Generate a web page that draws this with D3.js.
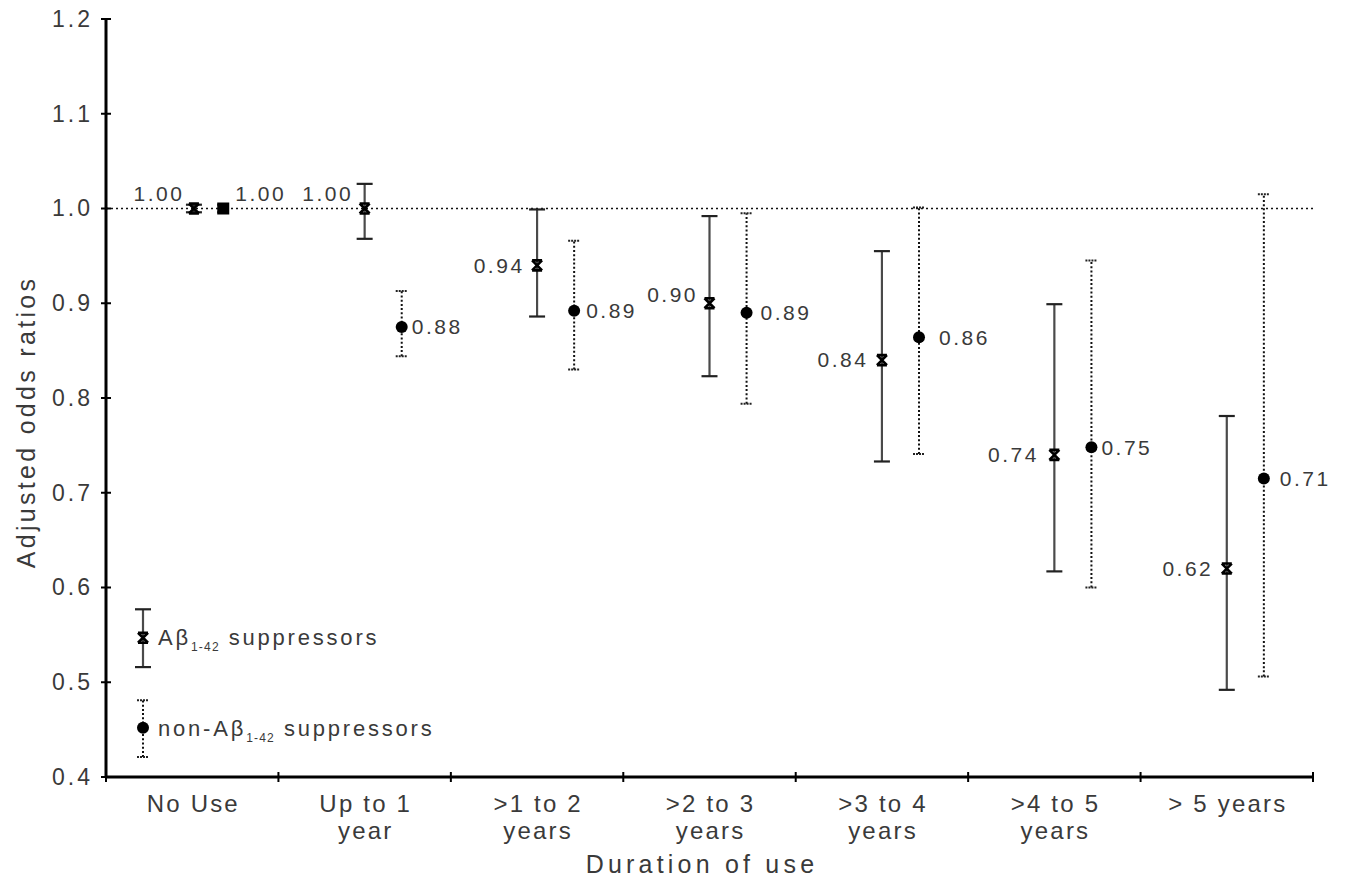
<!DOCTYPE html>
<html>
<head>
<meta charset="utf-8">
<script src="https://cdn.jsdelivr.net/npm/d3@7/dist/d3.min.js"></script>
<style>
  html, body { margin: 0; padding: 0; background: #fff; }
  svg { display: block; font-family: "Liberation Sans", Arial, sans-serif; }
</style>
</head>
<body>
<svg id="chart" width="1353" height="893"></svg>
<script>
// ---------- data ----------
const categories = ["No Use", "Up to 1 year", ">1 to 2 years", ">2 to 3 years", ">3 to 4 years", ">4 to 5 years", "> 5 years"];
const categoryLines = [["No Use"], ["Up to 1", "year"], [">1 to 2", "years"], [">2 to 3", "years"], [">3 to 4", "years"], [">4 to 5", "years"], ["> 5 years"]];

const abOR    = [1.00, 1.00, 0.94, 0.90, 0.84, 0.74, 0.62];
const abLow   = [0.996, 0.968, 0.886, 0.823, 0.733, 0.617, 0.492];
const abHigh  = [1.004, 1.026, 0.999, 0.992, 0.955, 0.899, 0.781];
const abLabels = ["1.00", "1.00", "0.94", "0.90", "0.84", "0.74", "0.62"];

const nonOR   = [1.00, 0.875, 0.892, 0.89, 0.864, 0.748, 0.715];
const nonLow  = [0.996, 0.844, 0.830, 0.794, 0.741, 0.600, 0.506];
const nonHigh = [1.004, 0.913, 0.966, 0.995, 1.001, 0.945, 1.015];
const nonLabels = ["1.00", "0.88", "0.89", "0.89", "0.86", "0.75", "0.71"];

const yTicks = [0.4, 0.5, 0.6, 0.7, 0.8, 0.9, 1.0, 1.1, 1.2];
const referenceOR = 1.0;

// legend sample values (drawn on the y scale)
const legendAb  = { v: 0.547, lo: 0.516, hi: 0.577 };
const legendNon = { v: 0.452, lo: 0.421, hi: 0.481 };

// ---------- layout ----------
const svg = d3.select("#chart");
const X0 = 106, X1 = 1313, Y0 = 777, Y1 = 19;
const textColor = "#3a3a3a";

const x = d3.scaleBand().domain(categories).range([X0, X1]).paddingInner(0).paddingOuter(0);
const y = d3.scaleLinear().domain([0.4, 1.2]).range([Y0, Y1]);
const bw = x.bandwidth();
const abPos  = i => x(categories[i]) + bw / 2 + (i === 0 ? 0.01 * bw : 0);
const nonPos = i => x(categories[i]) + bw / 2 + (i === 0 ? 0.18 * bw : 0.215 * bw);

// label layout (pixel gaps / vertical shifts)
const abGap  = [12, 14, 15, 14, 16, 18, 16];
const abDy   = [-15, -15, 0, -9, 0, 0, 0];
const nonGap = [12, 10, 12, 14, 20, 10, 16];
const nonDy  = [-15, 0, 0, 0, 0, 0, 0];

// reference dotted line
svg.append("line")
  .attr("x1", X0).attr("x2", X1)
  .attr("y1", y(referenceOR)).attr("y2", y(referenceOR))
  .attr("stroke", "#111").attr("stroke-width", 1.6)
  .attr("stroke-dasharray", "2,3");

// y axis
const yAxis = d3.axisLeft(y).tickValues(yTicks).tickFormat(d3.format(".1f")).tickSizeInner(0).tickSizeOuter(0).tickPadding(13);
const gy = svg.append("g").attr("transform", `translate(${X0},0)`).call(yAxis);
gy.select(".domain").remove();
gy.selectAll("text").attr("font-size", 23).attr("letter-spacing", 3).attr("fill", textColor)
  .attr("font-family", "Liberation Sans, Arial, sans-serif");
svg.append("line").attr("x1", X0).attr("x2", X0).attr("y1", Y1 - 1).attr("y2", Y0 + 1)
  .attr("stroke", "#000").attr("stroke-width", 3);
svg.selectAll(".ytick").data(yTicks).join("line").attr("class", "ytick")
  .attr("x1", X0 - 5).attr("x2", X0 + 5)
  .attr("y1", d => y(d)).attr("y2", d => y(d))
  .attr("stroke", "#000").attr("stroke-width", 2);

// x axis
svg.append("line").attr("x1", X0).attr("x2", X1).attr("y1", Y0).attr("y2", Y0)
  .attr("stroke", "#000").attr("stroke-width", 3);
const bounds = categories.map(c => x(c)).concat([X1]);
svg.selectAll(".xtick").data(bounds).join("line").attr("class", "xtick")
  .attr("x1", d => d).attr("x2", d => d)
  .attr("y1", Y0 - 5).attr("y2", Y0 + 5)
  .attr("stroke", "#000").attr("stroke-width", 2);
const xls = 2.2;
const xl = svg.selectAll(".xlab").data(categories).join("text").attr("class", "xlab")
  .attr("y", 812)
  .attr("text-anchor", "middle")
  .attr("font-size", 24)
  .attr("letter-spacing", xls)
  .attr("fill", textColor);
xl.each(function(d, i) {
  const t = d3.select(this);
  categoryLines[i].forEach((line, k) => {
    t.append("tspan").attr("x", x(d) + bw / 2 + xls / 2).attr("dy", k === 0 ? 0 : 27).text(line);
  });
});

// axis titles
svg.append("text").attr("x", 700 + 2).attr("y", 873)
  .attr("text-anchor", "middle").attr("font-size", 25).attr("letter-spacing", 4.2).attr("fill", textColor)
  .text("Duration of use");
svg.append("text").attr("transform", `translate(35,${424 - 2}) rotate(-90)`)
  .attr("text-anchor", "middle").attr("font-size", 25).attr("letter-spacing", 3.3).attr("fill", textColor)
  .text("Adjusted odds ratios");

// ---------- marks ----------
function solidBar(g, cx, lo, hi) {
  g.append("line").attr("x1", cx).attr("x2", cx).attr("y1", y(lo)).attr("y2", y(hi))
    .attr("stroke", "#4a4a4a").attr("stroke-width", 2.2);
  [lo, hi].forEach(v => g.append("line").attr("x1", cx - 8).attr("x2", cx + 8)
    .attr("y1", y(v)).attr("y2", y(v)).attr("stroke", "#222").attr("stroke-width", 2.2));
}
function dottedBar(g, cx, lo, hi) {
  g.append("line").attr("x1", cx).attr("x2", cx).attr("y1", y(lo)).attr("y2", y(hi))
    .attr("stroke", "#111").attr("stroke-width", 2).attr("stroke-dasharray", "2,2.2");
  [lo, hi].forEach(v => g.append("line").attr("x1", cx - 6).attr("x2", cx + 6)
    .attr("y1", y(v)).attr("y2", y(v)).attr("stroke", "#222").attr("stroke-width", 2)
    .attr("stroke-dasharray", "2,1"));
}
function xMarker(g, cx, cy) {
  const s = 5;
  g.append("path")
    .attr("d", `M${cx - s},${cy - s}L${cx + s},${cy + s}M${cx + s},${cy - s}L${cx - s},${cy + s}M${cx - s},${cy - s}L${cx + s},${cy - s}M${cx - s},${cy + s}L${cx + s},${cy + s}`)
    .attr("stroke", "#000").attr("stroke-width", 2.6).attr("fill", "none");
}
function dotMarker(g, cx, cy) {
  g.append("circle").attr("cx", cx).attr("cy", cy).attr("r", 6).attr("fill", "#000");
}

const marks = svg.append("g");
categories.forEach((c, i) => {
  const ax = abPos(i), nx = nonPos(i);
  solidBar(marks, ax, abLow[i], abHigh[i]);
  xMarker(marks, ax, y(abOR[i]));
  dottedBar(marks, nx, nonLow[i], nonHigh[i]);
  if (i === 0) {
    marks.append("rect").attr("x", nx - 6).attr("y", y(nonOR[i]) - 6).attr("width", 12).attr("height", 12).attr("fill", "#000");
  } else {
    dotMarker(marks, nx, y(nonOR[i]));
  }
});

// value labels
const vls = 2.5;
svg.selectAll(".ablab").data(abLabels).join("text").attr("class", "ablab")
  .attr("x", (d, i) => abPos(i) - abGap[i] + vls)
  .attr("y", (d, i) => y(abOR[i]) + abDy[i])
  .attr("dy", "0.35em").attr("text-anchor", "end")
  .attr("font-size", 21).attr("letter-spacing", vls).attr("fill", textColor).text(d => d);
svg.selectAll(".nonlab").data(nonLabels).join("text").attr("class", "nonlab")
  .attr("x", (d, i) => nonPos(i) + nonGap[i])
  .attr("y", (d, i) => y(nonOR[i]) + nonDy[i])
  .attr("dy", "0.35em").attr("text-anchor", "start")
  .attr("font-size", 21).attr("letter-spacing", vls).attr("fill", textColor).text(d => d);

// ---------- legend ----------
const lx = 143;
const leg = svg.append("g");
solidBar(leg, lx, legendAb.lo, legendAb.hi);
xMarker(leg, lx, y(legendAb.v));
dottedBar(leg, lx, legendNon.lo, legendNon.hi);
dotMarker(leg, lx, y(legendNon.v));

function legendText(tx, ty, prefix) {
  const t = leg.append("text").attr("x", tx).attr("y", ty).attr("dy", "0.35em")
    .attr("font-size", 22).attr("letter-spacing", 2.8).attr("fill", textColor);
  t.append("tspan").text(prefix + "Aβ");
  t.append("tspan").attr("font-size", 12).attr("letter-spacing", 1.2).attr("dy", 6).text("1-42");
  t.append("tspan").attr("dy", -6).text(" suppressors");
}
legendText(158, y(legendAb.v), "");
legendText(158, y(legendNon.v) + 1, "non-");
</script>
</body>
</html>
